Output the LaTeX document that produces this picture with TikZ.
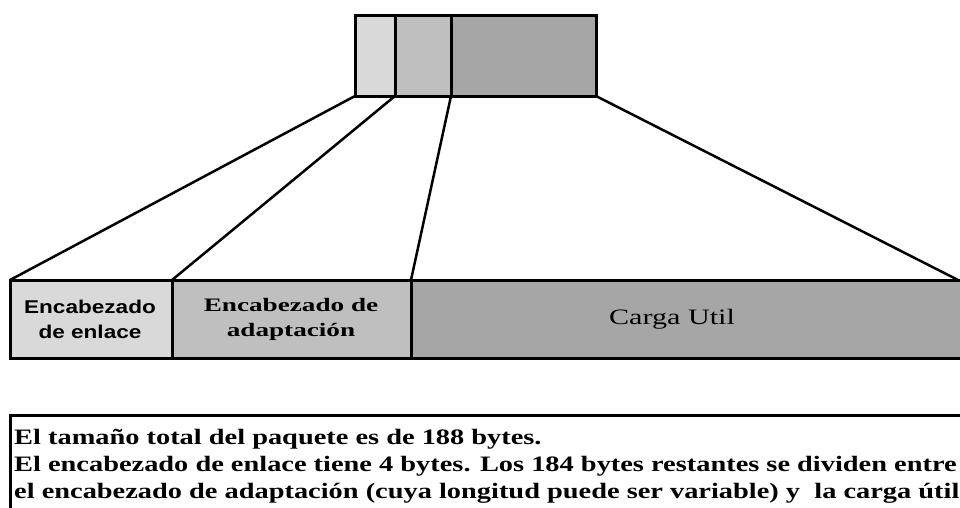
\documentclass[tikz,border=0pt]{standalone}
\usepackage{fontspec}
\newfontfamily\hdsans[FakeStretch=1.22]{Liberation Sans}
\newfontfamily\hdserif[FakeStretch=1.43]{Liberation Serif}
\newfontfamily\cgserif[FakeStretch=1.37]{Liberation Serif}
\newfontfamily\bodyserif[FakeStretch=1.29]{Liberation Serif}
\definecolor{cA}{HTML}{D9D9D9}
\definecolor{cB}{HTML}{BFBFBF}
\definecolor{cC}{HTML}{A6A6A6}
\tikzset{
  seg/.style={draw=black, line width=3pt, inner sep=0pt},
  conn/.style={draw=black, line width=2.5pt},
}
\begin{document}
\begin{tikzpicture}[x=1pt,y=-1pt]
\useasboundingbox (0,0) rectangle (960,507);
% top packet
\path[seg, fill=cA] (355,15) rectangle (395,96);
\path[seg, fill=cB] (395,15) rectangle (451,96);
\path[seg, fill=cC] (451,15) rectangle (596,96);
\coordinate (t1) at (355,96);
\coordinate (t2) at (395,96);
\coordinate (t3) at (451,96);
\coordinate (t4) at (596,96);
% bottom packet
\path[seg, fill=cA] (10,280) rectangle (172,358);
\path[seg, fill=cB] (172,280) rectangle (411,358);
\path[seg, fill=cC] (411,280) rectangle (964,358);
\coordinate (b1) at (10,280);
\coordinate (b2) at (172,280);
\coordinate (b3) at (411,280);
\coordinate (b4) at (958,280);
\draw[conn] (t1) -- (b1);
\draw[conn] (t2) -- (b2);
\draw[conn] (t3) -- (b3);
\draw[conn] (t4) -- (b4);
\node (l1) at (90,319) [align=center, font=\hdsans\bfseries\fontsize{18.5}{25}\selectfont] {Encabezado\\de enlace};
\node (l2) at (291,319) [align=center, font=\hdserif\bfseries\fontsize{19}{25}\selectfont] {Encabezado de\\adaptación};
\node (l3) at (672,319) [font=\cgserif\fontsize{22}{24}\selectfont] {Carga Util};
% text box
\draw[line width=3pt] (964,415) -- (10,415) -- (10,512);
\node (txt) at (14,466) [anchor=west, align=left, inner sep=0pt, font=\bodyserif\bfseries\fontsize{22}{27}\selectfont] {El tamaño total del paquete es de 188 bytes.\\El encabezado de enlace tiene 4 bytes. Los 184 bytes restantes se dividen entre\\el encabezado de adaptación (cuya longitud puede ser variable) y\ \ la carga útil};
\end{tikzpicture}
\end{document}
